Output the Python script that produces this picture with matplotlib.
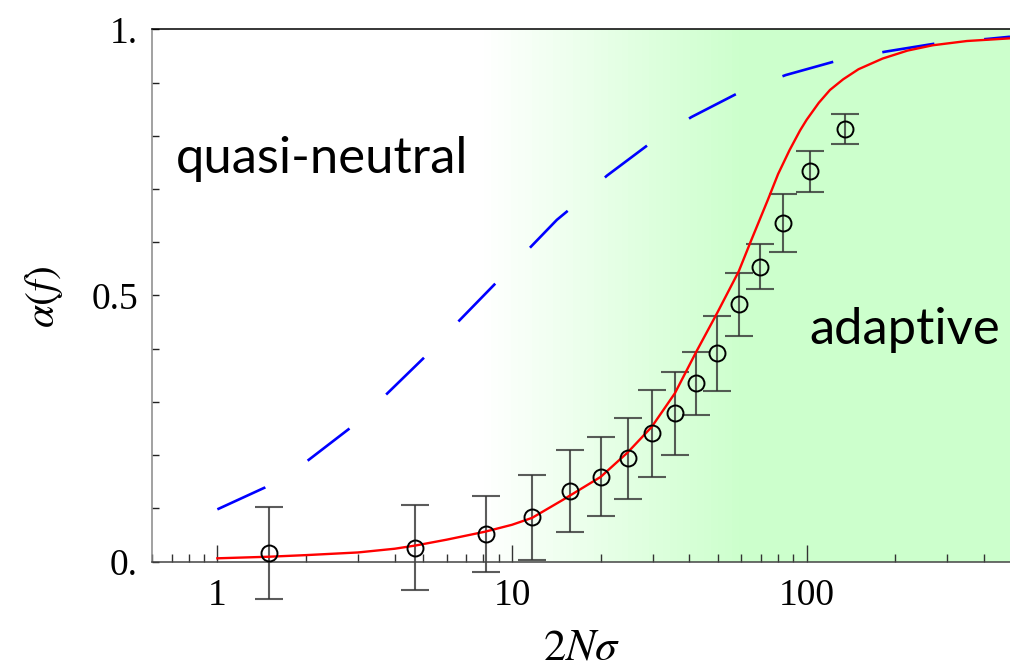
import numpy as np
import matplotlib.pyplot as plt
from matplotlib.colors import LinearSegmentedColormap
from matplotlib.ticker import FixedLocator, FixedFormatter, LogLocator, NullFormatter

plt.rcParams['mathtext.fontset'] = 'stix'
plt.rcParams['lines.scale_dashes'] = False

# ------------------------------------------
# data
# ------------------------------------------
# simulation points with error bars
sim_x = [1.5, 4.67, 8.13, 11.7, 15.7, 20.0, 24.7, 29.8, 35.7, 42.2,
         49.7, 58.8, 69.6, 83.1, 102.4, 134.6]
sim_y = [0.016, 0.026, 0.052, 0.083, 0.133, 0.159, 0.194, 0.241, 0.279, 0.335,
         0.391, 0.483, 0.554, 0.636, 0.733, 0.812]
sim_err = [0.086, 0.080, 0.072, 0.080, 0.077, 0.074, 0.076, 0.082, 0.078, 0.059,
           0.070, 0.059, 0.042, 0.054, 0.039, 0.028]

# theory (red, solid)
fit_x = [1, 1.5, 2, 3, 4, 4.7, 6, 8.1, 10, 11.7, 14.9, 20, 24.7, 29.8, 35.7,
         42.2, 49.7, 58.8, 64.9, 73.9, 80, 87.5, 95, 100, 110, 120, 133, 150,
         181, 220, 268, 350, 490]
fit_y = [0.006, 0.009, 0.012, 0.017, 0.024, 0.030, 0.041, 0.056, 0.069, 0.082,
         0.116, 0.159, 0.205, 0.253, 0.316, 0.394, 0.467, 0.545, 0.604, 0.680,
         0.728, 0.773, 0.810, 0.830, 0.862, 0.886, 0.906, 0.925, 0.945, 0.960,
         0.970, 0.978, 0.983]

# naive estimate (blue, dashed)
naive_x = [1, 1.45, 2.02, 2.81, 3.76, 5.05, 6.63, 8.84, 14.2, 15.7, 21.0, 29.3,
           40.6, 58.9, 84.9, 127, 185, 279, 413, 490]
naive_y = [0.098, 0.139, 0.189, 0.250, 0.315, 0.384, 0.453, 0.524, 0.642, 0.662,
           0.725, 0.785, 0.835, 0.881, 0.914, 0.941, 0.958, 0.974, 0.982, 0.986]

xticks = [1, 10, 100]
xtick_labels = ['1', '10', '100']
yticks = [0, 0.5, 1]
ytick_labels = ['0.', '0.5', '1.']

# ------------------------------------------
# figure
# ------------------------------------------
fig = plt.figure(figsize=(10.1, 6.7), dpi=100)
ax = fig.add_axes([152 / 1010, 1 - 561.5 / 670, 1 - 152 / 1010, (561.5 - 29.3) / 670])
ax.set_xscale('log')
ax.set_xlim(0.6, 490)
ax.set_ylim(0, 1)

# green background: fade in from ~8 to ~60, then solid
green = LinearSegmentedColormap.from_list('fade', ['#ffffff', '#ccffcc'])
edges = np.geomspace(7.6, 62, 40)
ax.pcolormesh(edges, [0, 1], np.linspace(0, 1, len(edges) - 1)[None, :],
              cmap=green, shading='flat', zorder=0)
ax.axvspan(62, 490, color='#ccffcc', lw=0, zorder=0)

ax.plot(naive_x, naive_y, color='#0000ff', lw=1.9, dashes=(38, 36), zorder=3)
eb = ax.errorbar(sim_x, sim_y, yerr=sim_err, fmt='none', ecolor='#333333', alpha=0.8,
                 elinewidth=1.5, capsize=10, capthick=1.5, zorder=2)
for art in eb.lines[1] + eb.lines[2]:
    art.set_clip_on(False)
ax.plot(fit_x, fit_y, color='#ff0000', lw=1.7, zorder=3)
ax.plot(sim_x, sim_y, 'o', ms=11.5, mfc='none', mec='black', mew=1.4, zorder=4,
        clip_on=False)

# ticks
ax.xaxis.set_major_locator(FixedLocator(xticks))
ax.xaxis.set_major_formatter(FixedFormatter(xtick_labels))
ax.xaxis.set_minor_locator(LogLocator(base=10, subs=np.arange(2, 10)))
ax.xaxis.set_minor_formatter(NullFormatter())
ax.yaxis.set_major_locator(FixedLocator(yticks))
ax.yaxis.set_major_formatter(FixedFormatter(ytick_labels))
ax.yaxis.set_minor_locator(FixedLocator(np.arange(0.1, 1.0, 0.1)))

ax.tick_params(axis='x', which='major', direction='in', length=12, width=1,
               color='#333333', pad=12, labelsize=27)
ax.tick_params(axis='x', which='minor', direction='in', length=6, width=1,
               color='#333333')
ax.tick_params(axis='y', which='both', direction='in', length=5, width=1,
               color='#222222', pad=10, labelsize=27)
for lab in ax.get_xticklabels() + ax.get_yticklabels():
    lab.set_family('Liberation Serif')

ax.spines['right'].set_visible(False)
ax.spines['top'].set_color('black')
ax.spines['left'].set_color('#888888')
ax.spines['bottom'].set_color('#444444')
for s in ['top', 'left', 'bottom']:
    ax.spines[s].set_linewidth(1.1)

# labels
fig.text(44 / 1010, 1 - 297 / 670, r'$\alpha(f)$', rotation=90,
         ha='center', va='center', fontsize=30)
fig.text(582 / 1010, 1 - 660 / 670, r'$2N\sigma$', ha='center', va='baseline',
         fontsize=32)
fig.text(176 / 1010, 1 - 173 / 670, 'quasi-neutral', family='Lato',
         fontsize=36.5, va='baseline')
fig.text(809 / 1010, 1 - 344 / 670, 'adaptive', family='Lato',
         fontsize=36.5, va='baseline')

plt.savefig('out.png', dpi=100)
